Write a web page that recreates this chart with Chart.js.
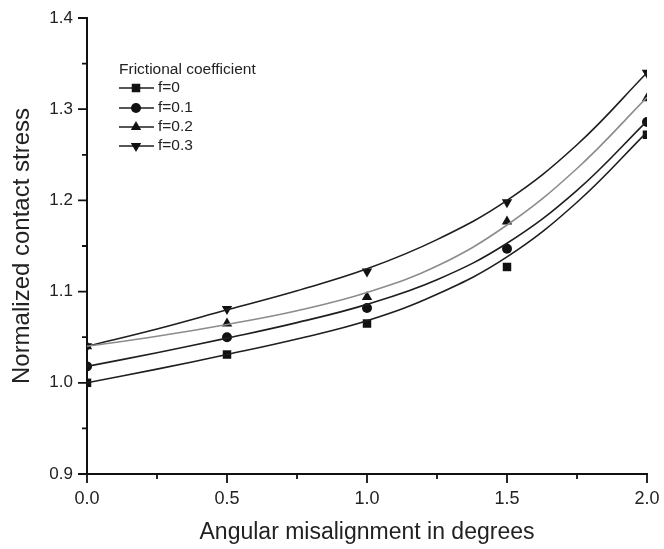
<!DOCTYPE html>
<html>
<head>
<meta charset="utf-8">
<title>Normalized contact stress</title>
<script src="https://cdn.jsdelivr.net/npm/chart.js@4/dist/chart.umd.min.js"></script>
<style>
    html, body { margin: 0; padding: 0; background: #fff; }
    #chartBox { width: 664px; height: 549px; }
</style>
</head>
<body>
<div id="chartBox"><canvas id="stressChart"></canvas></div>
<script>
// Angular misalignment (degrees) at the measured points
const anglePoints = [0, 0.5, 1.0, 1.5, 2.0];
const angleCurve = [0, 0.25, 0.5, 0.75, 1.0, 1.25, 1.5, 1.75, 2.0];

const seriesLabels = ['f=0', 'f=0.1', 'f=0.2', 'f=0.3'];

// Measured normalized contact stress
const stressF0 = [1.000, 1.031, 1.065, 1.127, 1.272];
const stressF01 = [1.018, 1.050, 1.082, 1.147, 1.286];
const stressF02 = [1.040, 1.065, 1.094, 1.177, 1.312];
const stressF03 = [1.040, 1.081, 1.122, 1.198, 1.340];

// Fitted curves
const curveF0 = [1.000, 1.015, 1.031, 1.048, 1.068, 1.097, 1.138, 1.198, 1.275];
const curveF01 = [1.018, 1.033, 1.049, 1.066, 1.086, 1.113, 1.153, 1.211, 1.287];
const curveF02 = [1.040, 1.051, 1.064, 1.079, 1.099, 1.128, 1.173, 1.235, 1.313];
const curveF03 = [1.040, 1.059, 1.080, 1.101, 1.125, 1.157, 1.200, 1.261, 1.340];

const yTicks = ['0.9', '1.0', '1.1', '1.2', '1.3', '1.4'];
const xTicks = ['0.0', '0.5', '1.0', '1.5', '2.0'];

const FONT = "'Liberation Sans', Arial, sans-serif";

const StressChart = {
    init: function() {
        const ctx = document.getElementById('stressChart');

        const pointSets = [stressF0, stressF01, stressF02, stressF03];
        const curveSets = [curveF0, curveF01, curveF02, curveF03];
        const styles = [
            { pointStyle: 'rect', rotation: 0, radius: 6, line: '#1e1e1e' },
            { pointStyle: 'circle', rotation: 0, radius: 5, line: '#1e1e1e' },
            { pointStyle: 'triangle', rotation: 0, radius: 6, line: '#8c8c8c' },
            { pointStyle: 'triangle', rotation: 180, radius: 6, line: '#1e1e1e' }
        ];

        const datasets = [];

        // Fitted curves first so the markers sit on top
        curveSets.forEach((values, i) => {
            datasets.push({
                label: seriesLabels[i] + ' fit',
                data: angleCurve.map((x, k) => ({ x: x, y: values[k] })),
                showLine: true,
                borderColor: styles[i].line,
                borderWidth: 1.6,
                pointRadius: 0,
                tension: 0.4,
                isCurve: true
            });
        });

        pointSets.forEach((values, i) => {
            datasets.push({
                label: seriesLabels[i],
                data: anglePoints.map((x, k) => ({ x: x, y: values[k] })),
                showLine: false,
                pointStyle: styles[i].pointStyle,
                rotation: styles[i].rotation,
                pointRadius: styles[i].radius,
                backgroundColor: '#111',
                borderColor: '#111',
                borderWidth: 0
            });
        });

        this.chart = new Chart(ctx, {
            type: 'scatter',
            data: { datasets: datasets },
            options: {
                responsive: true,
                maintainAspectRatio: false,
                animation: false,
                layout: { padding: { top: 18, right: 17, left: 0, bottom: 0 } },
                plugins: {
                    legend: { display: false },
                    tooltip: { enabled: false }
                },
                scales: {
                    x: {
                        type: 'linear',
                        min: 0,
                        max: 2,
                        afterFit: (scale) => {
                            scale.height = 75;
                            scale.paddingLeft = 0;
                            scale.paddingRight = 0;
                        },
                        afterBuildTicks: (scale) => {
                            scale.ticks = [0, 0.25, 0.5, 0.75, 1, 1.25, 1.5, 1.75, 2].map(v => ({ value: v }));
                        },
                        border: { display: true, color: '#111', width: 2 },
                        grid: { display: true, drawOnChartArea: false, drawTicks: false },
                        ticks: {
                            autoSkip: false,
                            maxRotation: 0,
                            padding: 14,
                            color: '#222',
                            font: { family: FONT, size: 18 },
                            callback: (v) => {
                                const idx = xTicks.indexOf(Number(v).toFixed(1));
                                return (Math.abs(v * 2 - Math.round(v * 2)) < 1e-6 && idx >= 0) ? xTicks[idx] : '';
                            }
                        },
                        title: {
                            display: true,
                            text: 'Angular misalignment in degrees',
                            color: '#222',
                            font: { family: FONT, size: 23 },
                            padding: { top: 0, bottom: 3 }
                        }
                    },
                    y: {
                        min: 0.9,
                        max: 1.4,
                        afterFit: (scale) => {
                            scale.width = 87;
                            scale.paddingTop = 0;
                            scale.paddingBottom = 0;
                        },
                        afterBuildTicks: (scale) => {
                            const list = [];
                            for (let k = 0; k <= 10; k++) list.push({ value: 0.9 + k * 0.05 });
                            scale.ticks = list;
                        },
                        border: { display: true, color: '#111', width: 2 },
                        grid: { display: true, drawOnChartArea: false, drawTicks: false },
                        ticks: {
                            autoSkip: false,
                            padding: 14,
                            color: '#222',
                            font: { family: FONT, size: 17 },
                            callback: (v) => {
                                const t = Number(v).toFixed(1);
                                return (Math.abs(v * 10 - Math.round(v * 10)) < 1e-6 && yTicks.indexOf(t) >= 0) ? t : '';
                            }
                        },
                        title: {
                            display: true,
                            text: 'Normalized contact stress',
                            color: '#222',
                            font: { family: FONT, size: 24 },
                            padding: { top: 8, bottom: 0 }
                        }
                    }
                }
            },
            plugins: [this.tickMarks(), this.frictionLegend()]
        });
    },

    /**
     * Draws outward major and minor tick marks on both axes
     */
    tickMarks: function() {
        return {
            id: 'tickMarks',
            afterDraw: (chart) => {
                const c = chart.ctx;
                const xs = chart.scales.x;
                const ys = chart.scales.y;
                const area = chart.chartArea;
                c.save();
                c.strokeStyle = '#111';
                c.lineWidth = 1.8;
                c.beginPath();
                xs.ticks.forEach((t) => {
                    const px = xs.getPixelForValue(t.value);
                    const major = Math.abs(t.value * 2 - Math.round(t.value * 2)) < 1e-6;
                    c.moveTo(px, area.bottom);
                    c.lineTo(px, area.bottom + (major ? 9 : 5));
                });
                ys.ticks.forEach((t) => {
                    const py = ys.getPixelForValue(t.value);
                    const major = Math.abs(t.value * 10 - Math.round(t.value * 10)) < 1e-6;
                    c.moveTo(area.left, py);
                    c.lineTo(area.left - (major ? 9 : 5), py);
                });
                c.stroke();
                c.restore();
            }
        };
    },

    /**
     * Legend inside the plot: line - marker - line, then the label
     */
    frictionLegend: function() {
        return {
            id: 'frictionLegend',
            afterDatasetsDraw: (chart) => {
                const c = chart.ctx;
                const left = 119;
                const rows = [88, 108, 127, 146];
                c.save();
                c.fillStyle = '#222';
                c.font = '15.5px ' + FONT;
                c.textBaseline = 'middle';
                c.textAlign = 'left';
                c.fillText('Frictional coefficient', left, 70);

                const markerSets = chart.data.datasets.filter(d => !d.isCurve);
                markerSets.forEach((ds, i) => {
                    const y = rows[i];
                    c.strokeStyle = '#1e1e1e';
                    c.lineWidth = 1.6;
                    c.beginPath();
                    c.moveTo(left, y);
                    c.lineTo(left + 35, y);
                    c.stroke();
                    c.fillStyle = '#111';
                    Chart.helpers.drawPoint(c, {
                        pointStyle: ds.pointStyle,
                        rotation: ds.rotation,
                        radius: ds.pointRadius,
                        borderWidth: 0
                    }, left + 17, y);
                    c.fillStyle = '#222';
                    c.font = '15.5px ' + FONT;
                    c.fillText(ds.label, left + 39, y);
                });
                c.restore();
            }
        };
    }
};

document.addEventListener('DOMContentLoaded', function() {
    StressChart.init();
});
</script>
</body>
</html>
